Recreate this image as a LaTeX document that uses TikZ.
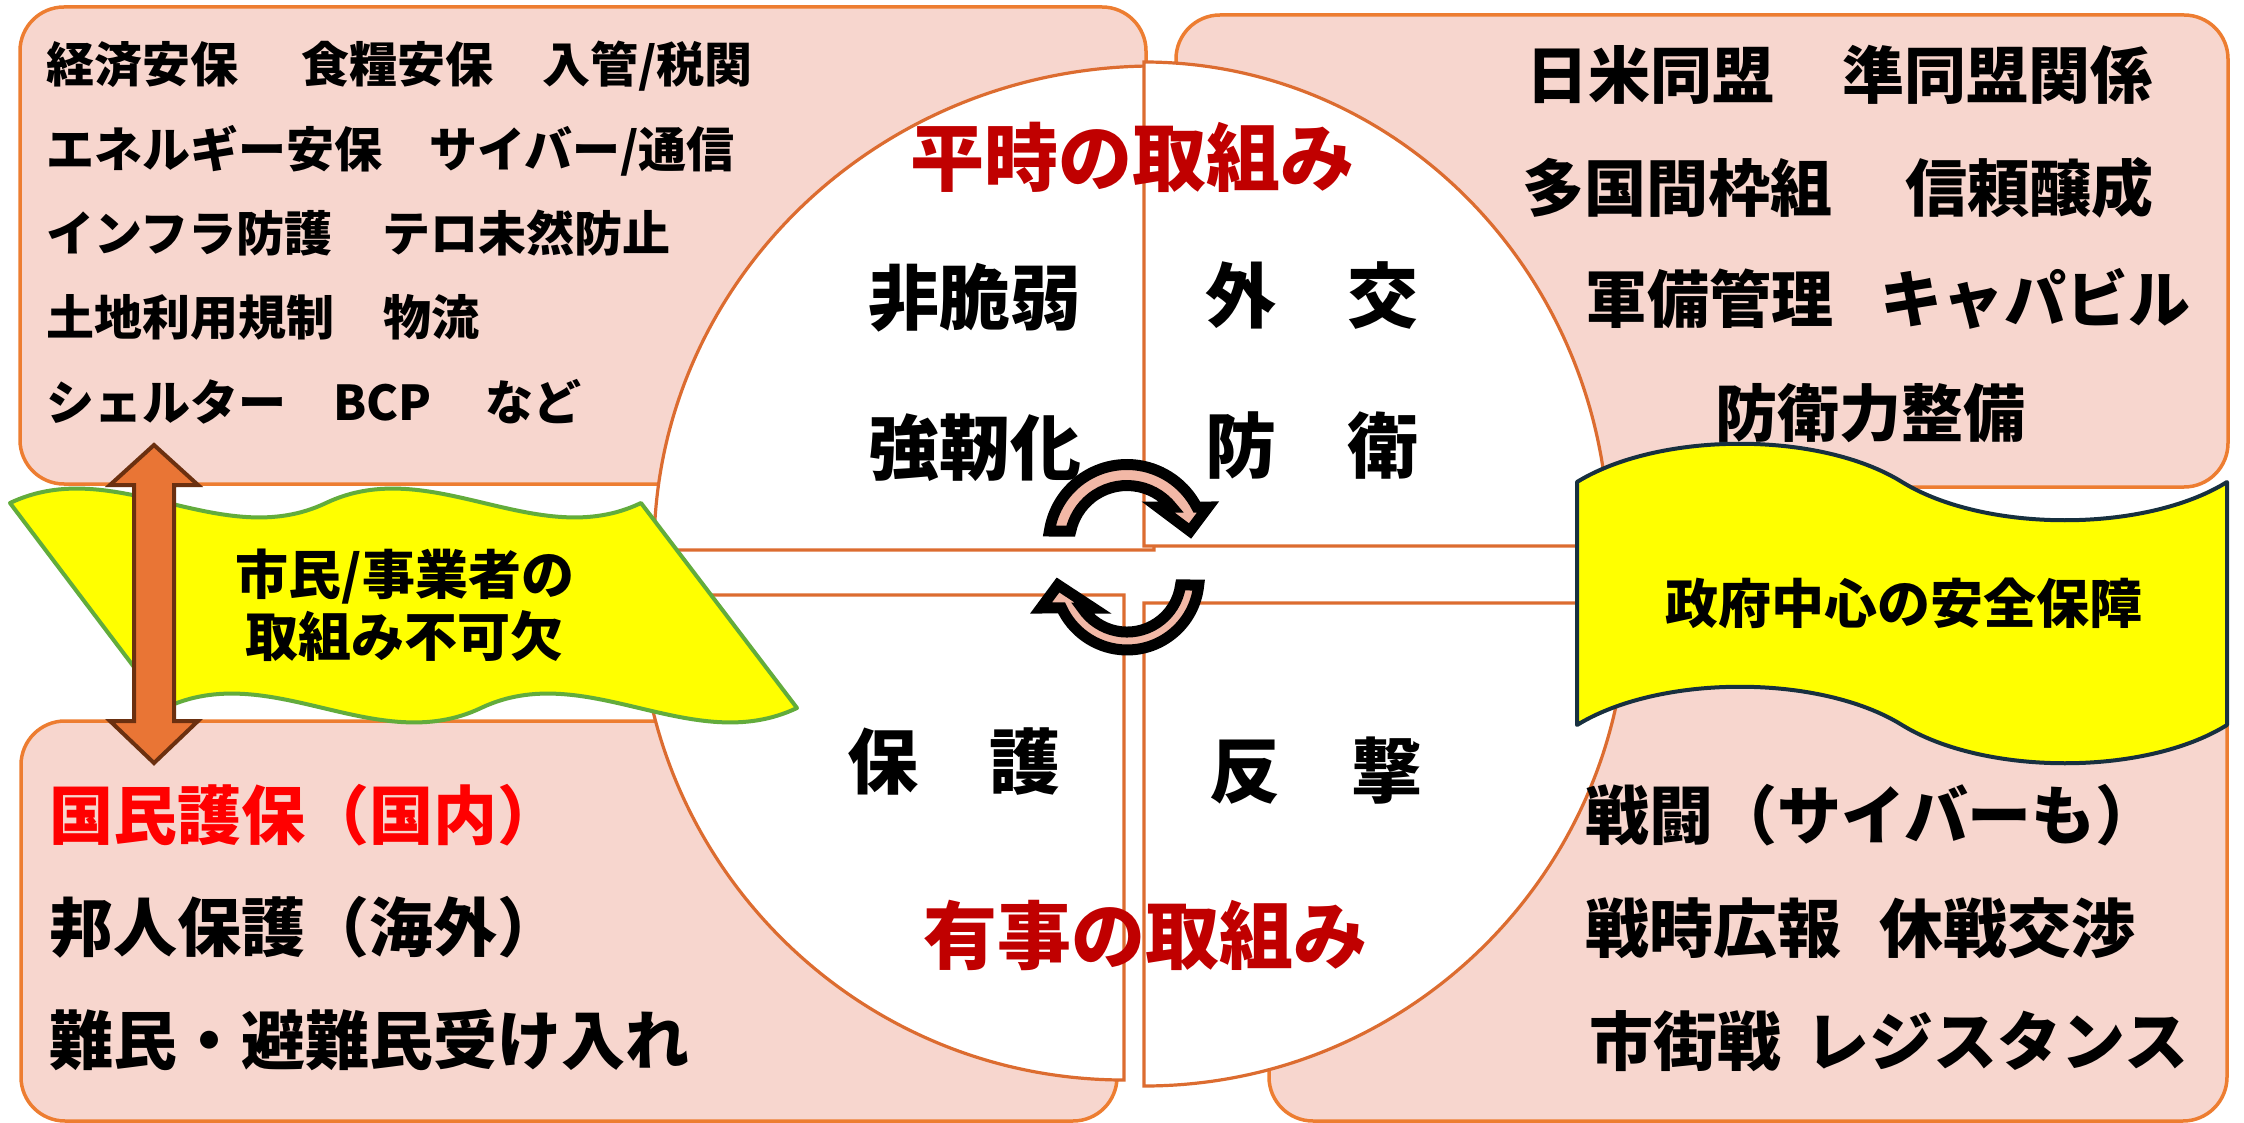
\documentclass[tikz,border=0pt]{standalone}
\usepackage{fontspec}
\setmainfont{Noto Sans CJK JP}
\definecolor{boxpink}{HTML}{F7D6CE}
\definecolor{boxorange}{HTML}{ED7D31}
\definecolor{quadorange}{HTML}{DC6C30}
\definecolor{titlered}{HTML}{C00000}
\definecolor{brightred}{HTML}{FF0000}
\definecolor{banyellow}{HTML}{FFFF00}
\definecolor{bangreen}{HTML}{62AC3C}
\definecolor{bannavy}{HTML}{17303F}
\definecolor{darrowfill}{HTML}{E97535}
\definecolor{darrowline}{HTML}{6B3010}
\definecolor{circpink}{HTML}{F2B8A6}
\newcommand\szTL{\fontsize{48}{58}\selectfont}
\newcommand\szTR{\fontsize{62}{74}\selectfont}
\newcommand\szBX{\fontsize{64}{76}\selectfont}
\newcommand\szQD{\fontsize{71}{85}\selectfont}
\newcommand\szRT{\fontsize{74}{88}\selectfont}
\newcommand\szBN{\fontsize{53}{64}\selectfont}
\begin{document}
\begin{tikzpicture}[x=1pt,y=-1pt,
  pinkbox/.style={fill=boxpink,draw=boxorange,line width=3.5pt,rounded corners=44pt},
  quad/.style={fill=white,draw=quadorange,line width=3.2pt},
  lt/.style={inner sep=0pt,anchor=base west,font=\bfseries},
  ct/.style={inner sep=0pt,anchor=base,font=\bfseries},
  circarrow/.style={fill=circpink,draw=black,line width=11pt,line join=miter},
  flag/.style={fill=banyellow,line width=4pt,line join=round}]
\useasboundingbox (0,0) rectangle (2244,1123);
\fill[white] (0,0) rectangle (2244,1123);
% corner boxes
\path[pinkbox] (20,7) rectangle (1146,484);
\path[pinkbox] (1176,15) rectangle (2228,487);
\path[pinkbox] (21,721) rectangle (1117,1121);
\path[pinkbox] (1269,650) rectangle (2227,1121);
% quadrants
\path[quad] (1154,550) -- (654,550) arc[start angle=180,end angle=270,x radius=500,y radius=484] -- cycle;
\path[quad] (1144,546) -- (1144,62) arc[start angle=270,end angle=360,x radius=465,y radius=484] -- cycle;
\path[quad] (1124,595) -- (1124,1080) arc[start angle=90,end angle=180,radius=485] -- cycle;
\path[quad] (1144,603) -- (1627,603) arc[start angle=0,end angle=90,radius=483] -- cycle;
% left banner (double wave, sheared)
\path[flag,draw=bangreen] (10,503) .. controls (115.3,453) and (220.7,553) .. (326,503)
  .. controls (431.3,453) and (536.7,553) .. (641,503) -- (797,708)
  .. controls (691.7,758) and (586.3,658) .. (481,708)
  .. controls (375.7,758) and (270.3,658) .. (165,708) -- cycle;
% right banner (wave)
\path[flag,draw=bannavy] (1577,482) .. controls (1660,431) and (1820,431) .. (1902,482)
  .. controls (1985,533) and (2145,533) .. (2227,482) -- (2227,725)
  .. controls (2145,776) and (1985,776) .. (1902,725)
  .. controls (1820,674) and (1660,674) .. (1577,725) -- cycle;
% double arrow
\path[fill=darrowfill,draw=darrowline,line width=4pt,line join=miter]
  (154,445) -- (198,485) -- (174,485) -- (174,721) -- (198,721) -- (154,763)
  -- (110,721) -- (134,721) -- (134,485) -- (110,485) -- cycle;
% circular arrows
\path[circarrow] (1049.4,531) arc[start angle=188.8,end angle=332.7,radius=78.5]
  -- (1208,507) -- (1190,531) -- (1158,507) -- (1171.8,507)
  arc[start angle=321.2,end angle=192,radius=57.5] -- cycle;
\path[circarrow] (1198.7,585) arc[start angle=5.6,end angle=155.4,radius=72]
  -- (1041,608) -- (1058,585) -- (1093,608) -- (1082.1,608)
  arc[start angle=146.3,end angle=7.4,radius=54] -- cycle;
% top-left box text
\node[lt] (a1) at (46,82.7) {\szTL 経済安保};
\node[lt] (a2) at (301,82.7) {\szTL 食糧安保};
\node[lt] (a3) at (542,82.7) {\szTL 入管/税関};
\node[lt] (a4) at (46,168) {\szTL エネルギー安保};
\node[lt] (a5) at (429,168) {\szTL サイバー/通信};
\node[lt] (a6) at (46,252) {\szTL インフラ防護};
\node[lt] (a7) at (382,252) {\szTL テロ未然防止};
\node[lt] (a8) at (46,336) {\szTL 土地利用規制};
\node[lt] (a9) at (383,336) {\szTL 物流};
\node[lt] (a10) at (46,420) {\szTL シェルター};
\node[lt] (a11) at (333,420) {\szTL BCP};
\node[lt] (a12) at (485,420) {\szTL など};
% top-right box text
\node[lt] (b1) at (1526,98.6) {\szTR 日米同盟};
\node[lt] (b2) at (1842,98.6) {\szTR 準同盟関係};
\node[lt] (b3) at (1522,211.6) {\szTR 多国間枠組};
\node[lt] (b4) at (1905,211.6) {\szTR 信頼醸成};
\node[lt] (b5) at (1585,322.6) {\szTR 軍備管理};
\node[lt] (b6) at (1880,322.6) {\szTR キャパビル};
\node[lt] (b7) at (1715,436.6) {\szTR 防衛力整備};
% bottom-left box text
\node[lt,text=brightred] (c1) at (49,839.3) {\szBX 国民護保（国内）};
\node[lt] (c2) at (49,951.3) {\szBX 邦人保護（海外）};
\node[lt] (c3) at (49,1064.3) {\szBX 難民・避難民受け入れ};
% bottom-right box text
\node[lt] (d1) at (1585,839.3) {\szBX 戦闘（サイバーも）};
\node[lt] (d2) at (1585,952.3) {\szBX 戦時広報};
\node[lt] (d3) at (1879,952.3) {\szBX 休戦交渉};
\node[lt] (d4) at (1589,1065.3) {\szBX 市街戦};
\node[lt] (d5) at (1805,1065.3) {\szBX レジスタンス};
% circle texts
\node[ct,text=titlered] (e1) at (1132.5,186) {\szRT 平時の取組み};
\node[ct,text=titlered] (e2) at (1145.5,963) {\szRT 有事の取組み};
\node[ct] (e3) at (974.5,325) {\szQD 非脆弱};
\node[ct] (e4) at (974.5,474) {\szQD 強靭化};
\node[ct] (e5) at (1311.5,323) {\szQD 外　交};
\node[ct] (e6) at (1311.5,472) {\szQD 防　衛};
\node[ct] (e7) at (954,788) {\szQD 保　護};
\node[ct] (e8) at (1315.5,797) {\szQD 反　撃};
% banner texts
\node[ct] (f1) at (405,594) {\szBN 市民/事業者の};
\node[ct] (f2) at (404,656) {\szBN 取組み不可欠};
\node[ct] (f3) at (1903.6,623) {\szBN 政府中心の安全保障};
\end{tikzpicture}
\end{document}
